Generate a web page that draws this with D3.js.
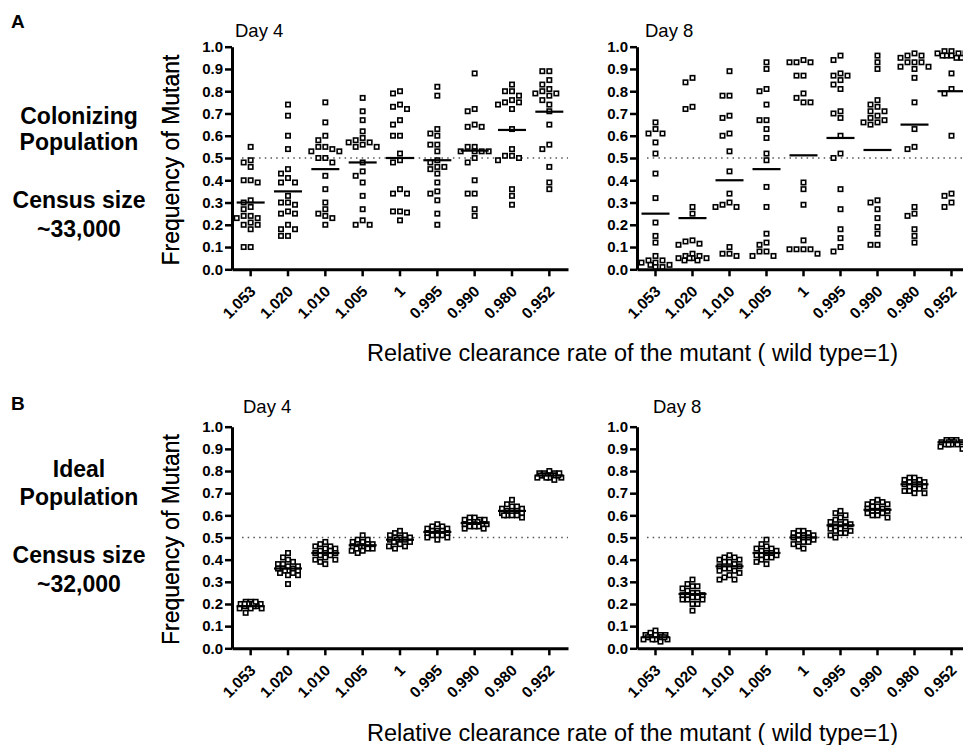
<!DOCTYPE html>
<html>
<head>
<meta charset="utf-8">
<script src="https://cdn.jsdelivr.net/npm/d3@7/dist/d3.min.js"></script>
<style>
  html, body { margin: 0; padding: 0; background: #fff; }
  svg { display: block; font-family: "Liberation Sans", Arial, Helvetica, sans-serif; }
</style>
</head>
<body>
<svg id="chart" width="963" height="745"></svg>
<script>
// ---------------- DATA ----------------
const categories = ["1.053", "1.020", "1.010", "1.005", "1", "0.995", "0.990", "0.980", "0.952"];
const yTicks = [0, 0.1, 0.2, 0.3, 0.4, 0.5, 0.6, 0.7, 0.8, 0.9, 1.0];

// A: Colonizing population, Day 4
const colonizingDay4 = [
  [0.55, 0.49, 0.48, 0.46, 0.40, 0.39, 0.40, 0.30, 0.31, 0.28, 0.27, 0.24, 0.23, 0.23, 0.24, 0.21, 0.20, 0.20, 0.18, 0.10, 0.10],
  [0.74, 0.69, 0.60, 0.54, 0.45, 0.43, 0.41, 0.39, 0.39, 0.33, 0.30, 0.30, 0.29, 0.26, 0.25, 0.25, 0.20, 0.18, 0.18, 0.15, 0.15],
  [0.75, 0.66, 0.60, 0.58, 0.55, 0.55, 0.53, 0.53, 0.54, 0.50, 0.50, 0.48, 0.42, 0.36, 0.30, 0.27, 0.25, 0.24, 0.23, 0.20],
  [0.77, 0.71, 0.67, 0.62, 0.59, 0.58, 0.57, 0.57, 0.56, 0.55, 0.55, 0.48, 0.44, 0.42, 0.39, 0.33, 0.27, 0.22, 0.20, 0.20],
  [0.80, 0.79, 0.74, 0.73, 0.72, 0.67, 0.65, 0.60, 0.60, 0.52, 0.49, 0.48, 0.36, 0.34, 0.34, 0.26, 0.255, 0.26, 0.22],
  [0.82, 0.78, 0.63, 0.61, 0.60, 0.56, 0.56, 0.53, 0.49, 0.48, 0.46, 0.46, 0.45, 0.43, 0.39, 0.35, 0.34, 0.31, 0.25, 0.20],
  [0.88, 0.72, 0.71, 0.64, 0.64, 0.65, 0.55, 0.55, 0.53, 0.53, 0.53, 0.53, 0.50, 0.48, 0.40, 0.34, 0.34, 0.27, 0.24],
  [0.83, 0.80, 0.80, 0.78, 0.76, 0.75, 0.75, 0.74, 0.72, 0.63, 0.54, 0.51, 0.49, 0.50, 0.51, 0.36, 0.33, 0.29],
  [0.89, 0.89, 0.85, 0.83, 0.81, 0.80, 0.79, 0.79, 0.78, 0.76, 0.74, 0.71, 0.65, 0.56, 0.54, 0.46, 0.39, 0.36]
];
const colonizingDay4Means = [0.30, 0.35, 0.45, 0.48, 0.50, 0.49, 0.533, 0.626, 0.708];

// A: Colonizing population, Day 8
const colonizingDay8 = [
  [0.66, 0.63, 0.61, 0.61, 0.57, 0.52, 0.43, 0.32, 0.21, 0.15, 0.12, 0.06, 0.04, 0.03, 0.04, 0.03, 0.01, 0.01, 0.02, 0.02],
  [0.86, 0.84, 0.73, 0.72, 0.28, 0.25, 0.13, 0.125, 0.115, 0.11, 0.07, 0.06, 0.06, 0.05, 0.05, 0.05, 0.05, 0.04, 0.04],
  [0.89, 0.78, 0.78, 0.69, 0.68, 0.60, 0.61, 0.53, 0.44, 0.34, 0.29, 0.28, 0.28, 0.30, 0.10, 0.07, 0.07, 0.06],
  [0.93, 0.90, 0.81, 0.80, 0.74, 0.67, 0.67, 0.63, 0.59, 0.52, 0.49, 0.37, 0.28, 0.16, 0.12, 0.11, 0.08, 0.08, 0.06, 0.06],
  [0.94, 0.93, 0.93, 0.93, 0.87, 0.87, 0.79, 0.77, 0.75, 0.75, 0.39, 0.36, 0.29, 0.13, 0.09, 0.09, 0.09, 0.09, 0.07],
  [0.96, 0.94, 0.88, 0.87, 0.87, 0.85, 0.83, 0.81, 0.70, 0.71, 0.68, 0.60, 0.52, 0.50, 0.36, 0.27, 0.18, 0.14, 0.10, 0.08],
  [0.96, 0.93, 0.90, 0.76, 0.74, 0.73, 0.71, 0.71, 0.69, 0.68, 0.67, 0.66, 0.66, 0.65, 0.31, 0.30, 0.27, 0.23, 0.19, 0.16, 0.11, 0.11],
  [0.97, 0.96, 0.96, 0.95, 0.93, 0.93, 0.93, 0.91, 0.91, 0.90, 0.86, 0.75, 0.63, 0.55, 0.54, 0.28, 0.25, 0.24, 0.18, 0.15, 0.12],
  [0.98, 0.98, 0.97, 0.97, 0.97, 0.96, 0.96, 0.96, 0.95, 0.95, 0.88, 0.81, 0.79, 0.60, 0.34, 0.33, 0.30, 0.28]
];
const colonizingDay8Means = [0.25, 0.23, 0.40, 0.45, 0.512, 0.59, 0.536, 0.65, 0.80];

// B: Ideal population, Day 4
const idealDay4 = [
  [0.20, 0.20, 0.21, 0.19, 0.19, 0.20, 0.18, 0.19, 0.21, 0.20, 0.18, 0.19, 0.20, 0.19, 0.18, 0.20, 0.21, 0.16],
  [0.43, 0.41, 0.40, 0.39, 0.38, 0.38, 0.37, 0.37, 0.36, 0.36, 0.35, 0.35, 0.35, 0.34, 0.34, 0.33, 0.33, 0.36, 0.29],
  [0.48, 0.47, 0.46, 0.46, 0.45, 0.45, 0.44, 0.44, 0.43, 0.43, 0.43, 0.42, 0.42, 0.41, 0.40, 0.40, 0.39, 0.38],
  [0.51, 0.49, 0.49, 0.48, 0.48, 0.47, 0.47, 0.47, 0.46, 0.46, 0.46, 0.45, 0.45, 0.45, 0.44, 0.44, 0.43],
  [0.53, 0.52, 0.51, 0.51, 0.50, 0.50, 0.50, 0.49, 0.49, 0.49, 0.49, 0.48, 0.48, 0.47, 0.46, 0.46, 0.45],
  [0.56, 0.55, 0.55, 0.54, 0.54, 0.53, 0.53, 0.53, 0.52, 0.52, 0.52, 0.51, 0.51, 0.51, 0.50, 0.50, 0.49],
  [0.59, 0.59, 0.58, 0.58, 0.58, 0.57, 0.57, 0.57, 0.56, 0.56, 0.56, 0.56, 0.55, 0.55, 0.55, 0.54, 0.54],
  [0.67, 0.65, 0.64, 0.64, 0.63, 0.63, 0.62, 0.62, 0.62, 0.61, 0.61, 0.61, 0.60, 0.60, 0.60, 0.60, 0.59],
  [0.80, 0.79, 0.79, 0.79, 0.78, 0.78, 0.78, 0.78, 0.78, 0.78, 0.77, 0.77, 0.77, 0.77, 0.76, 0.78, 0.79]
];
const idealDay4Means = [0.19, 0.36, 0.43, 0.465, 0.49, 0.525, 0.565, 0.62, 0.78];

// B: Ideal population, Day 8
const idealDay8 = [
  [0.08, 0.07, 0.06, 0.06, 0.06, 0.05, 0.05, 0.05, 0.05, 0.05, 0.04, 0.04, 0.04, 0.04, 0.03, 0.05, 0.06],
  [0.31, 0.29, 0.28, 0.28, 0.27, 0.26, 0.25, 0.25, 0.24, 0.24, 0.24, 0.23, 0.23, 0.22, 0.22, 0.22, 0.20, 0.20, 0.17],
  [0.42, 0.41, 0.41, 0.40, 0.40, 0.39, 0.39, 0.38, 0.37, 0.37, 0.36, 0.36, 0.35, 0.35, 0.34, 0.33, 0.32, 0.31, 0.31],
  [0.49, 0.47, 0.46, 0.45, 0.45, 0.44, 0.44, 0.43, 0.43, 0.42, 0.42, 0.42, 0.41, 0.41, 0.40, 0.39, 0.38],
  [0.53, 0.53, 0.52, 0.52, 0.51, 0.51, 0.51, 0.50, 0.50, 0.50, 0.49, 0.49, 0.48, 0.48, 0.47, 0.46, 0.45],
  [0.62, 0.61, 0.60, 0.59, 0.58, 0.57, 0.57, 0.56, 0.56, 0.55, 0.55, 0.54, 0.54, 0.53, 0.53, 0.52, 0.52, 0.51, 0.50],
  [0.67, 0.66, 0.66, 0.65, 0.65, 0.64, 0.64, 0.63, 0.63, 0.62, 0.62, 0.62, 0.61, 0.61, 0.60, 0.60, 0.59],
  [0.77, 0.77, 0.76, 0.76, 0.75, 0.75, 0.75, 0.74, 0.74, 0.74, 0.73, 0.73, 0.72, 0.72, 0.71, 0.71, 0.70, 0.70],
  [0.94, 0.94, 0.94, 0.93, 0.93, 0.93, 0.93, 0.93, 0.92, 0.92, 0.92, 0.92, 0.91, 0.90]
];
const idealDay8Means = [0.05, 0.245, 0.37, 0.43, 0.50, 0.555, 0.625, 0.74, 0.93];

const referenceLine = 0.5;
const xTitle = "Relative clearance rate of the mutant ( wild type=1)";
const yTitle = "Frequency of Mutant";

// ---------------- LAYOUT ----------------
const svg = d3.select("#chart");
svg.append("rect").attr("width", 963).attr("height", 745).attr("fill", "#fff");

const panels = [
  { vals: colonizingDay4, means: colonizingDay4Means, x0: 232, x1: 568, top: 46.7, bot: 269.3, day: "Day 4", dayX: 235, dayY: 37, gap: 6.4, spread: 15 },
  { vals: colonizingDay8, means: colonizingDay8Means, x0: 637, x1: 970, top: 46.7, bot: 269.3, day: "Day 8", dayX: 645, dayY: 37, gap: 6.4, spread: 15 },
  { vals: idealDay4, means: idealDay4Means, x0: 232, x1: 568, top: 426.7, bot: 648.3, day: "Day 4", dayX: 243, dayY: 413, gap: 4.8, spread: 12 },
  { vals: idealDay8, means: idealDay8Means, x0: 637, x1: 970, top: 426.7, bot: 648.3, day: "Day 8", dayX: 653, dayY: 413, gap: 4.8, spread: 12 }
];

function swarm(vals, y, maxOff, d) {
  const idx = vals.map((v, i) => i).sort((a, b) => vals[b] - vals[a]);
  const placed = [];
  const off = new Array(vals.length);
  for (const i of idx) {
    const py = y(vals[i]);
    let best = 0, bestScore = -1;
    for (let k = 0; k <= 2 * maxOff; k++) {
      const dx = (k % 2 === 1 ? -1 : 1) * Math.ceil(k / 2);
      let minD = Infinity;
      for (const p of placed) {
        const dd = Math.max(Math.abs(p.x - dx), Math.abs(p.y - py));
        if (dd < minD) minD = dd;
      }
      if (minD >= d) { best = dx; bestScore = minD; break; }
      if (minD > bestScore) { bestScore = minD; best = dx; }
    }
    placed.push({ x: best, y: py });
    off[i] = best;
  }
  return off;
}

panels.forEach(p => {
  const x = d3.scaleBand().domain(categories).range([p.x0, p.x1]);
  const y = d3.scaleLinear().domain([0, 1]).range([p.bot, p.top]);
  const g = svg.append("g");

  // reference dotted line
  g.append("line")
    .attr("x1", p.x0 + 10).attr("x2", p.x1)
    .attr("y1", y(referenceLine)).attr("y2", y(referenceLine))
    .attr("stroke", "#555").attr("stroke-width", 1.3)
    .attr("stroke-dasharray", "1.5 4.2");

  // points
  categories.forEach((c, ci) => {
    const vals = p.vals[ci];
    const offs = swarm(vals, y, p.spread, p.gap);
    const cx = x(c) + x.bandwidth() / 2;
    g.selectAll(null).data(vals).enter().append("rect")
      .attr("x", (v, i) => cx + offs[i] - 2.2)
      .attr("y", v => y(v) - 2.2)
      .attr("width", 4.4).attr("height", 4.4)
      .attr("fill", "#fff").attr("stroke", "#000").attr("stroke-width", 1.6);
    g.append("line")
      .attr("x1", cx - 14).attr("x2", cx + 14)
      .attr("y1", y(p.means[ci])).attr("y2", y(p.means[ci]))
      .attr("stroke", "#000").attr("stroke-width", 2.2);
  });

  // y axis
  const ya = g.append("g").attr("transform", `translate(${p.x0},0)`)
    .call(d3.axisLeft(y).tickValues(yTicks).tickFormat(d3.format(".1f")).tickSize(7).tickSizeOuter(0).tickPadding(2));
  ya.select(".domain").attr("stroke-width", 3).attr("stroke", "#000");
  ya.selectAll(".tick line").attr("stroke-width", 2.5).attr("stroke", "#000");
  ya.selectAll(".tick text").attr("font-size", 15).attr("font-weight", "bold")
    .attr("font-family", "Liberation Sans, Arial, sans-serif").attr("fill", "#000");

  // x axis
  const xa = g.append("g").attr("transform", `translate(0,${p.bot})`)
    .call(d3.axisBottom(x).tickSize(7).tickSizeOuter(0));
  xa.select(".domain").attr("stroke-width", 3).attr("stroke", "#000");
  xa.selectAll(".tick line").attr("stroke-width", 2.5).attr("stroke", "#000");
  xa.selectAll(".tick text")
    .attr("font-size", 15.5).attr("font-weight", "bold")
    .attr("font-family", "Liberation Sans, Arial, sans-serif").attr("fill", "#000")
    .attr("text-anchor", "end")
    .attr("y", 0).attr("dy", 0)
    .attr("transform", "translate(6,23) rotate(-45)");

  // day label
  svg.append("text").attr("x", p.dayX).attr("y", p.dayY)
    .attr("font-size", 18.5).text(p.day);

  // y axis title
  svg.append("text")
    .attr("transform", `translate(179,${(p.top + p.bot) / 2 + 2}) rotate(-90)`)
    .attr("text-anchor", "middle").attr("font-size", 23).text(yTitle);
});

// x titles
[361, 741].forEach(yy => {
  svg.append("text").attr("x", 367).attr("y", yy).attr("font-size", 23.5).text(xTitle);
});

// panel letters and side texts
const side = [
  { letter: "A", ly: 28, lines: [["Colonizing", 124], ["Population", 150], ["Census size", 208], ["~33,000", 237]] },
  { letter: "B", ly: 410, lines: [["Ideal", 477], ["Population", 505], ["Census size", 563], ["~32,000", 592]] }
];
side.forEach(s => {
  svg.append("text").attr("x", 11).attr("y", s.ly).attr("font-size", 19).attr("font-weight", "bold").text(s.letter);
  s.lines.forEach(([t, yy]) => {
    svg.append("text").attr("x", 79).attr("y", yy).attr("text-anchor", "middle")
      .attr("font-size", 23).attr("font-weight", "bold").text(t);
  });
});
</script>
</body>
</html>
